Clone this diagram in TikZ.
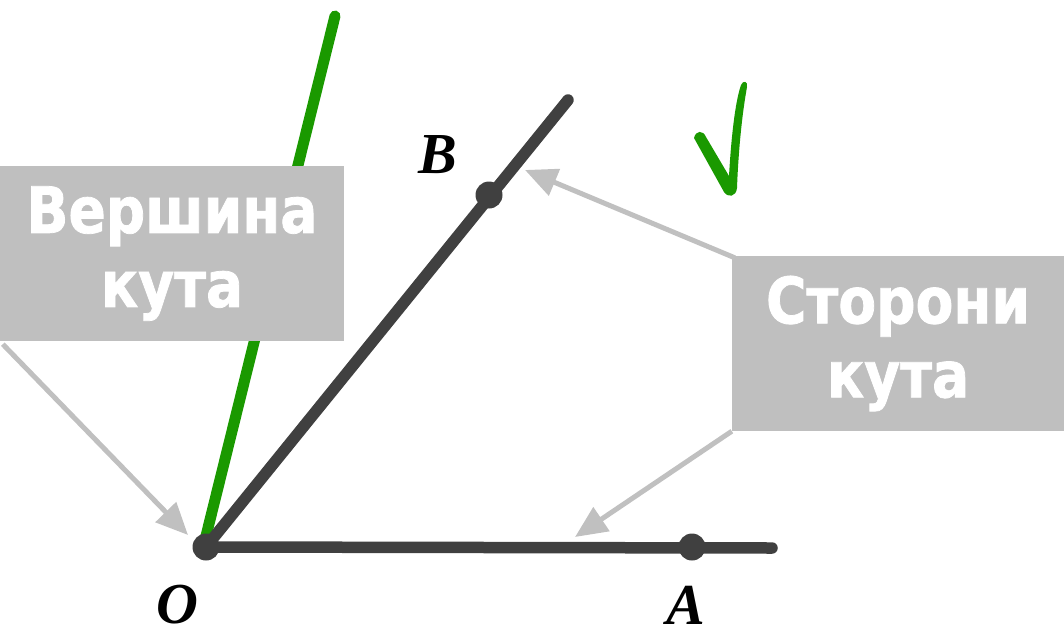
\documentclass[tikz,border=0pt]{standalone}
\usepackage{fontspec}
\setmainfont{Liberation Serif}
\newfontfamily\boxfont[FakeStretch=0.86,FakeBold=1.2]{DejaVu Sans}
\usetikzlibrary{arrows.meta}
\definecolor{rayc}{HTML}{404040}
\definecolor{greenc}{HTML}{1A9900}
\definecolor{boxc}{HTML}{BFBFBF}
\definecolor{arrc}{HTML}{C0C0C0}
\tikzset{
  ray/.style={draw=rayc, line width=11.5pt, line cap=round},
  greenray/.style={draw=greenc, line width=11pt, line cap=round},
  dot/.style={circle, fill=rayc, inner sep=0pt, minimum size=27pt},
  infobox/.style={fill=boxc, inner sep=0pt, text=white, align=center,
    font=\boxfont\bfseries\fontsize{64pt}{74pt}\selectfont},
  pointer/.style={draw=arrc, line width=5pt, -{Triangle[length=32pt,width=28pt]}},
  ptlabel/.style={font=\bfseries\itshape\fontsize{58pt}{58pt}\selectfont, inner sep=0pt}
}
\begin{document}
\begin{tikzpicture}[x=1pt,y=-1pt]
\useasboundingbox (0,0) rectangle (1064,637);
% points
\coordinate (O) at (206,547);
\coordinate (Bend) at (568,100);
\coordinate (Aend) at (772,548);
\coordinate (Gtop) at (335,16);
\coordinate (Gbot) at (205,540);
% green line
\draw[greenray] (Gbot) -- (Gtop);
% boxes
\node[infobox, minimum width=344pt, minimum height=175pt] (vbox) at (172,253.5) {Вершина\\кута};
\node[infobox, minimum width=332pt, minimum height=175pt] (sbox) at (898,343.5) {Сторони\\кута};
% rays
\draw[ray] (O) -- (Bend);
\draw[ray] (O) -- (Aend);
\node[dot] (Bp) at (489,195) {};
\node[dot] (Ap) at (692,547) {};
\node[dot] (Op) at (O) {};
% labels
\node[ptlabel] (Ol) at (177,605) {O};
\node[ptlabel] (Bl) at (438,155) {B};
\node[ptlabel] (Al) at (686,605) {A};
% pointers
\coordinate (t1) at (188,535);
\coordinate (t2) at (525,170);
\coordinate (t3) at (575,537);
\draw[pointer] ([shift={(3pt,-3pt)}]vbox.south west) -- (t1);
\draw[pointer] ([shift={(3pt,-2pt)}]sbox.north west) -- (t2);
\draw[pointer] ([shift={(0pt,0pt)}]sbox.south west) -- (t3);
% check mark
\fill[greenc] (694,138) .. controls (696,130) and (703,130) .. (706,137)
  -- (729,176)
  .. controls (731,140) and (735,102) .. (741,85)
  .. controls (743,80) and (748,81) .. (747,87)
  .. controls (741,120) and (738,160) .. (737,188)
  .. controls (736,197) and (728,198) .. (724,192)
  -- cycle;
\end{tikzpicture}
\end{document}
